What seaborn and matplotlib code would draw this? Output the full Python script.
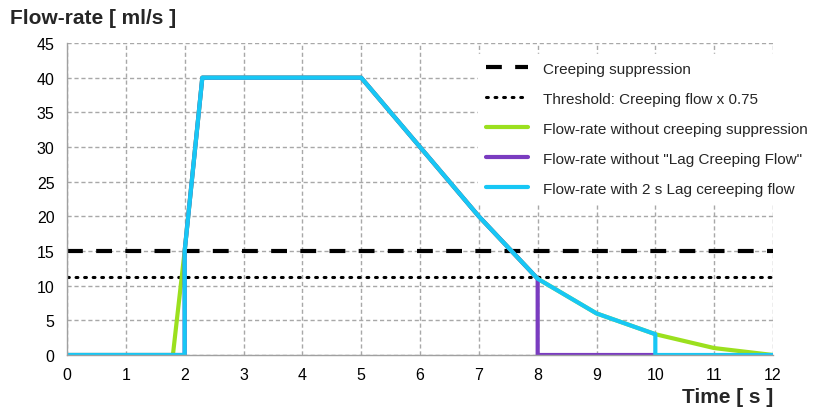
import matplotlib
matplotlib.use("Agg")
import matplotlib.pyplot as plt
import seaborn as sns
import pandas as pd

sns.set_theme(style="white")
plt.rcParams['font.family'] = ['Liberation Sans', 'DejaVu Sans']

# Data
suppression_level = 15
threshold_level = 11.25
x_range = [0, 12]

green_t = [0, 1.8, 2.0, 2.3, 5, 7, 8, 9, 10, 11, 12]
green_q = [0, 0, 15, 40, 40, 20, 11, 6, 3, 1, 0]

purple_t = [0, 2.0, 2.0, 2.3, 5, 7, 8, 8, 10]
purple_q = [0, 0, 15, 40, 40, 20, 11, 0, 0]

blue_t = [0, 2.0, 2.0, 2.3, 5, 7, 8, 9, 10, 10, 12]
blue_q = [0, 0, 15, 40, 40, 20, 11, 6, 3, 0, 0]

x_ticks = list(range(0, 13))
y_ticks = list(range(0, 46, 5))

labels = ["Creeping suppression",
          "Threshold: Creeping flow x 0.75",
          "Flow-rate without creeping suppression",
          "Flow-rate without \"Lag Creeping Flow\"",
          "Flow-rate with 2 s Lag cereeping flow"]

fig = plt.figure(figsize=(8.14, 4.14), dpi=100)
ax = fig.add_axes([67/814, 1-356/414, (773-67)/814, (356-44)/414])

lw = 3.0
sns.lineplot(x=x_range, y=[suppression_level]*2, ax=ax, color="black", lw=lw,
             linestyle=(0, (3.8, 3.2)), label=labels[0], sort=False, estimator=None)
sns.lineplot(x=x_range, y=[threshold_level]*2, ax=ax, color="black", lw=2.2,
             linestyle=(0, (0.6, 2.2)), dash_capstyle="round", label=labels[1],
             sort=False, estimator=None)
sns.lineplot(x=green_t, y=green_q, ax=ax, color="#9be01e", lw=lw, label=labels[2],
             sort=False, estimator=None)
sns.lineplot(x=purple_t, y=purple_q, ax=ax, color="#7a3cc0", lw=lw, label=labels[3],
             sort=False, estimator=None)
sns.lineplot(x=blue_t, y=blue_q, ax=ax, color="#17c7f5", lw=lw, label=labels[4],
             sort=False, estimator=None)

ax.set_xlim(0, 12)
ax.set_ylim(0, 45)
ax.set_xticks(x_ticks)
ax.set_yticks(y_ticks)
ax.grid(True, color="#a8a8a8", linestyle=(0, (3, 2)), linewidth=1.0)
ax.set_axisbelow(True)
for side in ["top", "right"]:
    ax.spines[side].set_visible(False)
for side in ["left", "bottom"]:
    ax.spines[side].set_color("#a0a0a0")
    ax.spines[side].set_linewidth(1.0)
ax.tick_params(axis="both", labelsize=11.5, length=0, pad=9, colors="black")
ax.set_xlabel("")
ax.set_ylabel("")

fig.text(10/814, 1-18/414, "Flow-rate [ ml/s ]", fontsize=15, fontweight="bold",
         va="center", ha="left")
fig.text(773/814, 1-398/414, "Time [ s ]", fontsize=15, fontweight="bold",
         va="center", ha="right")

leg = ax.legend(loc="upper left", bbox_to_anchor=(478/814, 1-55/414),
                bbox_transform=fig.transFigure, frameon=True, fontsize=11,
                handlelength=2.75, handletextpad=1.0, labelspacing=1.05,
                borderpad=0.5, borderaxespad=0)
leg.get_frame().set_facecolor("white")
leg.get_frame().set_edgecolor("white")
leg.get_frame().set_alpha(1.0)
leg.get_frame().set_boxstyle("square", pad=0)

fig.savefig("out.png", dpi=100)
